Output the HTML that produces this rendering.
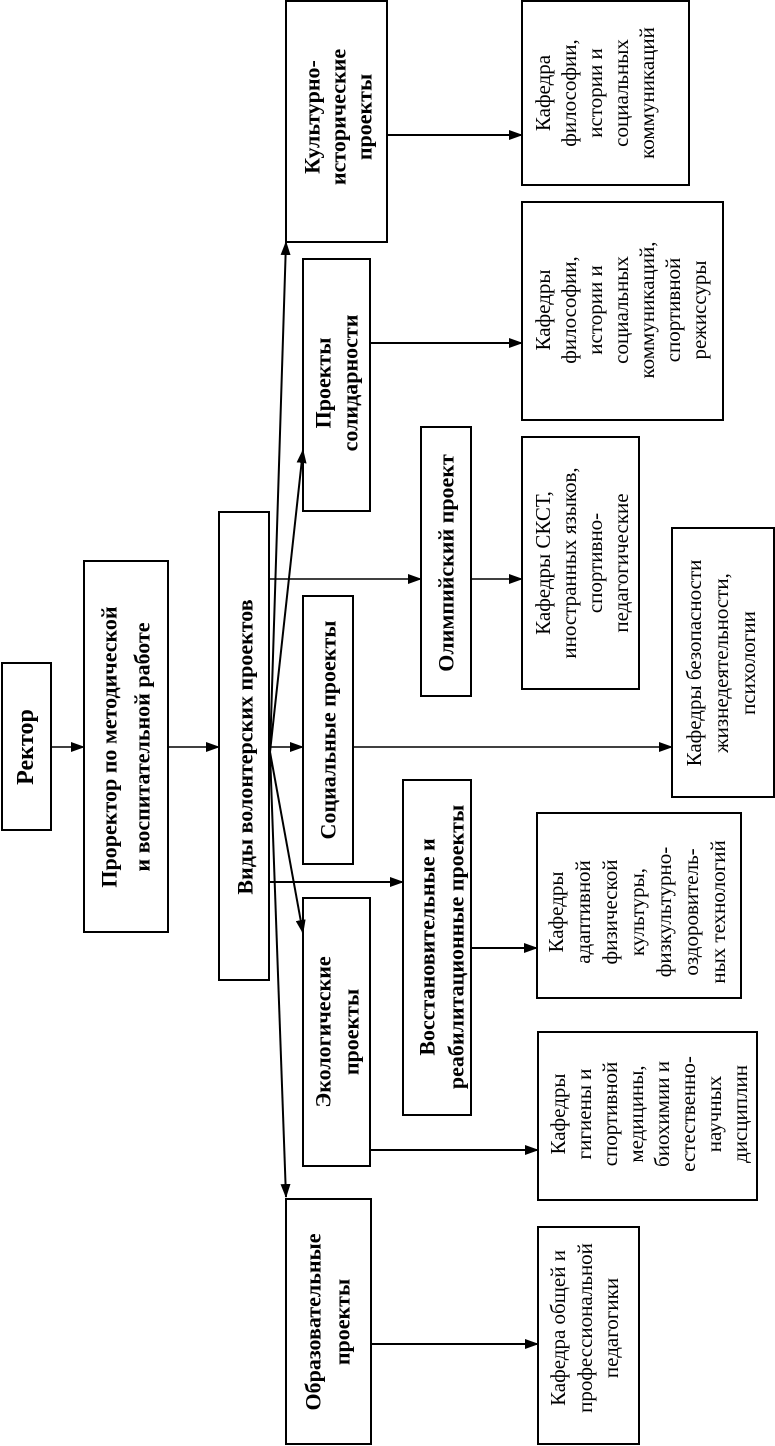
<!DOCTYPE html>
<html><head><meta charset="utf-8"><style>
html,body{margin:0;padding:0;background:#fff;}
svg{display:block;}
text{font-family:"Liberation Serif","DejaVu Serif",serif;fill:#000;}
.b{font-weight:bold;font-size:22px;}
.r{font-size:21px;}
</style></head><body>
<svg width="775" height="1446" viewBox="0 0 775 1446" xmlns="http://www.w3.org/2000/svg">
<defs>
<marker id="a" markerUnits="userSpaceOnUse" markerWidth="14" markerHeight="10" refX="13" refY="5" orient="auto">
<path d="M0,0 L14,5 L0,10 Z" fill="#000"/>
</marker>
</defs>
<g fill="none" stroke="#000" stroke-width="2">
<rect x="2" y="663" width="49" height="167"/>
<rect x="84" y="561" width="84" height="371"/>
<rect x="219" y="512" width="50" height="468"/>
<rect x="286" y="1" width="101" height="241"/>
<rect x="303" y="259" width="67" height="252"/>
<rect x="421" y="427" width="50" height="269"/>
<rect x="303" y="596" width="50" height="268"/>
<rect x="403" y="780" width="68" height="335"/>
<rect x="303" y="898" width="67" height="268"/>
<rect x="286" y="1199" width="85" height="245"/>
<rect x="522" y="1" width="167" height="184"/>
<rect x="522" y="202" width="201" height="218"/>
<rect x="522" y="437" width="117" height="252"/>
<rect x="672" y="528" width="102" height="269"/>
<rect x="537" y="813" width="204" height="185"/>
<rect x="538" y="1032" width="219" height="168"/>
<rect x="538" y="1227" width="101" height="217"/>
</g>
<g fill="none" stroke="#000" stroke-width="1.5">
<line x1="51" y1="747" x2="84" y2="747" marker-end="url(#a)"/>
<line x1="168" y1="747" x2="219" y2="747" marker-end="url(#a)"/>
<line x1="269" y1="747" x2="303" y2="747" marker-end="url(#a)"/>
<line x1="269" y1="579" x2="421" y2="579" marker-end="url(#a)"/>
<line x1="471" y1="579" x2="522" y2="579" marker-end="url(#a)"/>
<line x1="353" y1="747" x2="672" y2="747" marker-end="url(#a)"/>
<line x1="270" y1="752" x2="286" y2="242" marker-end="url(#a)" stroke-width="2"/>
<line x1="270" y1="752" x2="303" y2="450" marker-end="url(#a)" stroke-width="2"/>
<line x1="270" y1="752" x2="303" y2="933" marker-end="url(#a)" stroke-width="2"/>
<line x1="270" y1="752" x2="286" y2="1197" marker-end="url(#a)" stroke-width="2"/>
<line x1="269" y1="882" x2="403" y2="882" marker-end="url(#a)" stroke-width="2"/>
<line x1="387" y1="135" x2="522" y2="135" marker-end="url(#a)" stroke-width="2"/>
<line x1="370" y1="343" x2="522" y2="343" marker-end="url(#a)" stroke-width="2"/>
<line x1="471" y1="948" x2="537" y2="948" marker-end="url(#a)" stroke-width="2"/>
<line x1="370" y1="1150" x2="538" y2="1150" marker-end="url(#a)" stroke-width="2"/>
<line x1="371" y1="1344" x2="538" y2="1344" marker-end="url(#a)" stroke-width="2"/>
</g>
<g text-anchor="middle" dominant-baseline="central">
<text class="b" style="font-size:24px" transform="translate(26,747) rotate(-90)">Ректор</text>
<text class="b" transform="translate(109,747) rotate(-90)">Проректор по методической</text>
<text class="b" transform="translate(142,747) rotate(-90)">и воспитательной работе</text>
<text class="b" transform="translate(245,747) rotate(-90)">Виды волонтерских проектов</text>
<text class="b" transform="translate(312,117) rotate(-90)">Культурно-</text>
<text class="b" transform="translate(338,117) rotate(-90)">исторические</text>
<text class="b" transform="translate(364,117) rotate(-90)">проекты</text>
<text class="b" transform="translate(323,383) rotate(-90)">Проекты</text>
<text class="b" transform="translate(350,383) rotate(-90)">солидарности</text>
<text class="b" transform="translate(446,563) rotate(-90)">Олимпийский проект</text>
<text class="b" transform="translate(328,730) rotate(-90)">Социальные проекты</text>
<text class="b" transform="translate(427,947) rotate(-90)">Восстановительные и</text>
<text class="b" transform="translate(456,947) rotate(-90)">реабилитационные проекты</text>
<text class="b" transform="translate(323,1032) rotate(-90)">Экологические</text>
<text class="b" transform="translate(351,1032) rotate(-90)">проекты</text>
<text class="b" transform="translate(313,1322) rotate(-90)">Образовательные</text>
<text class="b" transform="translate(342,1322) rotate(-90)">проекты</text>

<text class="r" transform="translate(543,93) rotate(-90)">Кафедра</text>
<text class="r" transform="translate(569,93) rotate(-90)">философии,</text>
<text class="r" transform="translate(595,93) rotate(-90)">истории и</text>
<text class="r" transform="translate(621,93) rotate(-90)">социальных</text>
<text class="r" transform="translate(647,93) rotate(-90)">коммуникаций</text>

<text class="r" transform="translate(543,310) rotate(-90)">Кафедры</text>
<text class="r" transform="translate(569,310) rotate(-90)">философии,</text>
<text class="r" transform="translate(595,310) rotate(-90)">истории и</text>
<text class="r" transform="translate(621,310) rotate(-90)">социальных</text>
<text class="r" transform="translate(647,310) rotate(-90)">коммуникаций,</text>
<text class="r" transform="translate(673,310) rotate(-90)">спортивной</text>
<text class="r" transform="translate(699,310) rotate(-90)">режиссуры</text>

<text class="r" transform="translate(543,563) rotate(-90)">Кафедры СКСТ,</text>
<text class="r" transform="translate(569,563) rotate(-90)">иностранных языков,</text>
<text class="r" transform="translate(595,563) rotate(-90)">спортивно-</text>
<text class="r" transform="translate(621,563) rotate(-90)">педагогические</text>

<text class="r" transform="translate(694,663) rotate(-90)">Кафедры безопасности</text>
<text class="r" transform="translate(721,663) rotate(-90)">жизнедеятельности,</text>
<text class="r" transform="translate(748,663) rotate(-90)">психологии</text>

<text class="r" transform="translate(556,912) rotate(-90)">Кафедры</text>
<text class="r" transform="translate(583,912) rotate(-90)">адаптивной</text>
<text class="r" transform="translate(610,912) rotate(-90)">физической</text>
<text class="r" transform="translate(637,912) rotate(-90)">культуры,</text>
<text class="r" transform="translate(664,912) rotate(-90)">физкультурно-</text>
<text class="r" transform="translate(691,912) rotate(-90)">оздоровитель-</text>
<text class="r" transform="translate(718,912) rotate(-90)">ных технологий</text>

<text class="r" transform="translate(558,1114) rotate(-90)">Кафедры</text>
<text class="r" transform="translate(584,1114) rotate(-90)">гигиены и</text>
<text class="r" transform="translate(610,1114) rotate(-90)">спортивной</text>
<text class="r" transform="translate(636,1114) rotate(-90)">медицины,</text>
<text class="r" transform="translate(662,1114) rotate(-90)">биохимии и</text>
<text class="r" transform="translate(688,1114) rotate(-90)">естественно-</text>
<text class="r" transform="translate(714,1114) rotate(-90)">научных</text>
<text class="r" transform="translate(740,1114) rotate(-90)">дисциплин</text>

<text class="r" transform="translate(558,1328) rotate(-90)">Кафедра общей и</text>
<text class="r" transform="translate(585,1328) rotate(-90)">профессиональной</text>
<text class="r" transform="translate(611,1328) rotate(-90)">педагогики</text>
</g>
</svg>
</body></html>
